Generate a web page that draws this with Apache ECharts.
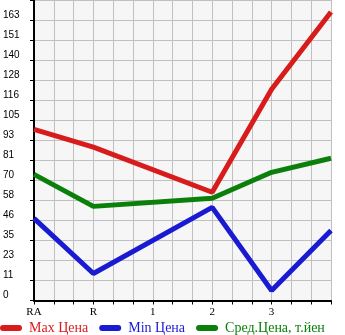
<!DOCTYPE html>
<html><head><meta charset="utf-8">
<script src="https://cdn.jsdelivr.net/npm/echarts@6/dist/echarts.min.js"></script>
<style>html,body{margin:0;padding:0;background:#fff}#c{width:345px;height:335px}</style>
</head><body><div id="c"></div>
<script>
const categories = ['RA', 'R', '1', '2', '3', ''];
const maxPrice = [99.5, 89.1, null, 62.9, 122.8, 167.7];
const minPrice = [47.7, 15.7, null, 54.1, 5.8, 40.7];
const avgPrice = [73.3, 54.7, null, 59.4, 74.5, 82.7];
const yTickLabels = ['0','11','23','35','46','58','70','81','93','105','116','128','140','151','163'];
const seriesNames = ['Max Цена', 'Min Цена', 'Сред.Цена, т.йен'];
const colors = ['#d81c1c', '#1a1ad2', '#0a800a'];

const step = 163 / 14;
const chart = echarts.init(document.getElementById('c'), null, {renderer: 'canvas'});
const pill = 'path://M3,0 L19,0 A3,3 0 0 1 19,6 L3,6 A3,3 0 0 1 3,0 Z';
chart.setOption({
  animation: false,
  backgroundColor: '#ffffff',
  grid: {left: 31, top: 0, width: 300, height: 300.5, show: true, backgroundColor: '#f6f6f6', borderWidth: 0},
  legend: {
    left: 0, top: 321, padding: 0, itemWidth: 22, itemHeight: 6, itemGap: 11,
    data: seriesNames.map((n, i) => ({name: n, icon: pill, textStyle: {color: colors[i]}})),
    textStyle: {fontFamily: 'Liberation Serif', fontSize: 14, padding: [0, 0, 0, 2]}
  },
  xAxis: [{
    type: 'category', data: categories, boundaryGap: false,
    axisLine: {lineStyle: {color: '#000', width: 2}},
    axisTick: {show: false}, splitLine: {show: false},
    axisLabel: {color: '#000', fontFamily: 'Liberation Serif', fontSize: 11, margin: 6, interval: 0}
  }, {
    type: 'value', min: 0, max: 15, interval: 1, position: 'bottom',
    axisLine: {show: false},
    axisTick: {show: true, length: 4, lineStyle: {color: '#000', width: 1}},
    axisLabel: {show: false},
    splitLine: {show: true, lineStyle: {color: '#c0c0c0', width: 1}}
  }],
  yAxis: {
    type: 'value', min: 0, max: step * 15, interval: step,
    axisLine: {show: true, lineStyle: {color: '#000', width: 2}},
    axisTick: {show: true, length: 4, lineStyle: {color: '#000', width: 1}},
    splitLine: {show: true, lineStyle: {color: '#c0c0c0', width: 1}},
    axisLabel: {
      color: '#000', fontFamily: 'Liberation Sans', fontSize: 10, align: 'left', margin: 31,
      verticalAlign: 'bottom',
      formatter: v => yTickLabels[Math.round(v / step)] || ''
    }
  },
  series: [
    {name: seriesNames[0], data: maxPrice},
    {name: seriesNames[1], data: minPrice},
    {name: seriesNames[2], data: avgPrice}
  ].map((s, i) => Object.assign(s, {
    type: 'line', xAxisIndex: 0, symbol: 'none', connectNulls: true,
    color: colors[i], lineStyle: {width: 5, color: colors[i]}
  }))
});
</script></body></html>
